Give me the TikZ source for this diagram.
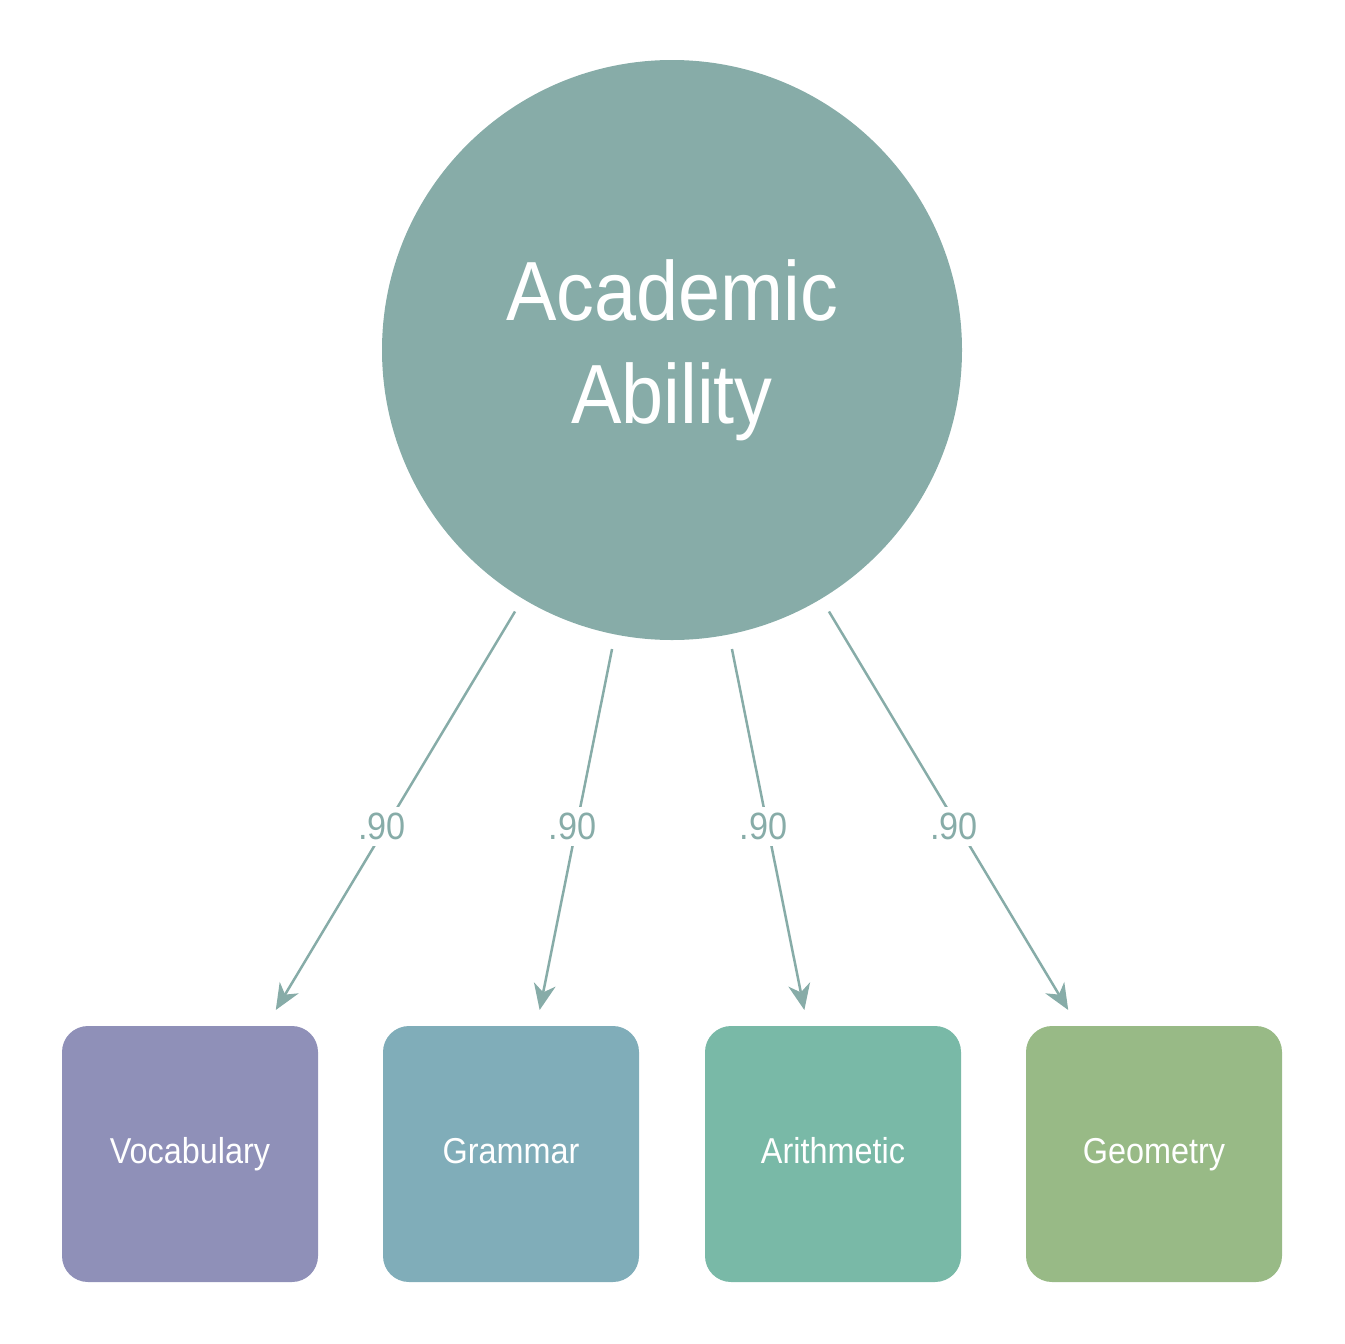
\documentclass[tikz,border=0pt]{standalone}
\usepackage{fontspec}
\setmainfont[FakeStretch=0.9]{Liberation Sans}
\usetikzlibrary{arrows.meta,calc}
\definecolor{latcol}{HTML}{87ACA8}
\definecolor{voccol}{HTML}{8F90B8}
\definecolor{gramcol}{HTML}{80ADB9}
\definecolor{arithcol}{HTML}{79B9A7}
\definecolor{geocol}{HTML}{98BA86}
\begin{document}
\begin{tikzpicture}[x=1pt,y=-1pt,
  latent/.style={circle, fill=latcol, minimum size=580pt, inner sep=0pt, outer sep=15pt, text=white, font=\fontsize{84}{103}\selectfont, align=center},
  obs/.style={rounded corners=26pt, minimum size=256pt, inner sep=0pt, outer sep=16pt, text=white, text height=26pt, text depth=8pt, font=\fontsize{36}{43}\selectfont},
  loading/.style={draw=latcol, line width=2.5pt, -{Stealth[length=26pt,width=22pt,inset=8pt]}},
  coef/.style={fill=white, text=latcol, inner sep=6pt, font=\fontsize{38}{44}\selectfont}]
\useasboundingbox (0,0) rectangle (1344,1344);
\node[latent] (AA) at (672,350) {Academic\\Ability};
\node[obs, fill=voccol] (V) at (190,1154) {Vocabulary};
\node[obs, fill=gramcol] (G) at (511,1154) {Grammar};
\node[obs, fill=arithcol] (Ar) at (833,1154) {Arithmetic};
\node[obs, fill=geocol] (Ge) at (1154,1154) {Geometry};
\foreach \t in {V,G,Ar,Ge}{
  \draw[loading] (AA) -- (\t);
  \node[coef, xshift=-4pt] (c\t) at ($(AA.center)!0.593!(\t.center)$) {.90};
}
\end{tikzpicture}
\end{document}
